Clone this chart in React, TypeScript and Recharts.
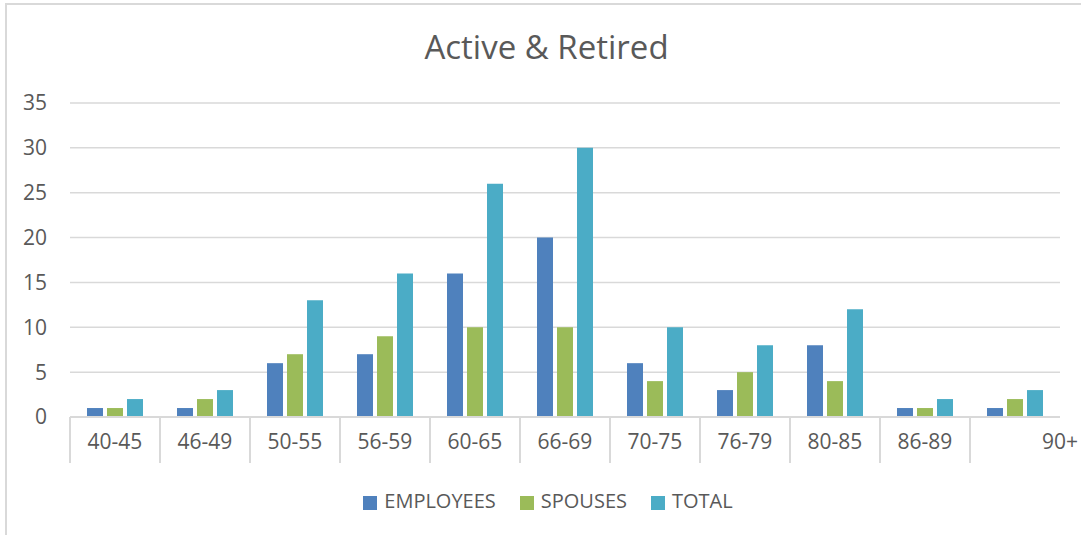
import React from "react";
import { BarChart, Bar, XAxis, YAxis, CartesianGrid, Legend } from "recharts";

const ageBands = ["40-45", "46-49", "50-55", "56-59", "60-65", "66-69", "70-75", "76-79", "80-85", "86-89", "90+"];
const employees = [1, 1, 6, 7, 16, 20, 6, 3, 8, 1, 1];
const spouses = [1, 2, 7, 9, 10, 10, 4, 5, 4, 1, 2];
const totals = [2, 3, 13, 16, 26, 30, 10, 8, 12, 2, 3];
const yTicks = [0, 5, 10, 15, 20, 25, 30, 35];

const data = ageBands.map((band, i) => ({
  band,
  EMPLOYEES: employees[i],
  SPOUSES: spouses[i],
  TOTAL: totals[i],
}));

const FONT = "'Open Sans', sans-serif";
const TEXT = "#595959";
const LINE = "#D9D9D9";

// Excel style category axis: separators between bands, label in the middle
function BandTick(props: any) {
  const { x, y, payload, index } = props;
  const half = payload.offset ?? 45;
  const last = index === ageBands.length - 1;
  return (
    <g>
      <line x1={x - half} y1={y - 8} x2={x - half} y2={y + 38} stroke={LINE} strokeWidth={2} />
      <text
        x={last ? x + 63 : x}
        y={y + 24}
        textAnchor={last ? "end" : "middle"}
        fill={TEXT}
        fontSize={21}
        fontFamily={FONT}
      >
        {payload.value}
      </text>
    </g>
  );
}

export default function App() {
  return (
    <div style={{ position: "absolute", left: 0, top: 0, width: 1081, height: 535, background: "#fff", overflow: "hidden" }}>
      <div
        style={{
          position: "absolute",
          left: 5,
          top: 3,
          width: 1100,
          height: 560,
          borderTop: `2px solid ${LINE}`,
          borderLeft: `2px solid ${LINE}`,
        }}
      />
      <div
        style={{
          position: "absolute",
          left: 0,
          top: 27,
          width: 1093,
          textAlign: "center",
          fontFamily: FONT,
          fontSize: 33,
          color: TEXT,
          lineHeight: "40px",
        }}
      >
        Active &amp; Retired
      </div>
      <BarChart
        width={1081}
        height={535}
        data={data}
        margin={{ top: 103, right: 21, left: 0, bottom: 0 }}
        barSize={16}
        barGap={4}
        style={{ position: "absolute", left: 0, top: 0 }}
      >
        <CartesianGrid vertical={false} stroke={LINE} strokeWidth={1.5} />
        <XAxis
          dataKey="band"
          axisLine={{ stroke: LINE, strokeWidth: 2 }}
          tickLine={false}
          tick={<BandTick />}
          interval={0}
          height={70}
        />
        <YAxis
          domain={[0, 35]}
          ticks={yTicks}
          width={70}
          axisLine={false}
          tickLine={false}
          tickMargin={17}
          tick={{ fill: TEXT, fontSize: 21, fontFamily: FONT }}
        />
        <Legend
          verticalAlign="bottom"
          iconType="square"
          iconSize={14}
          height={48}
          wrapperStyle={{ fontFamily: FONT, fontSize: 20, paddingLeft: 30 }}
          formatter={(value: string) => (
            <span style={{ color: TEXT, marginLeft: 3, marginRight: 14 }}>{value}</span>
          )}
        />
        <Bar dataKey="EMPLOYEES" fill="#4F81BD" isAnimationActive={false} />
        <Bar dataKey="SPOUSES" fill="#9BBB59" isAnimationActive={false} />
        <Bar dataKey="TOTAL" fill="#4BACC6" isAnimationActive={false} />
      </BarChart>
    </div>
  );
}
